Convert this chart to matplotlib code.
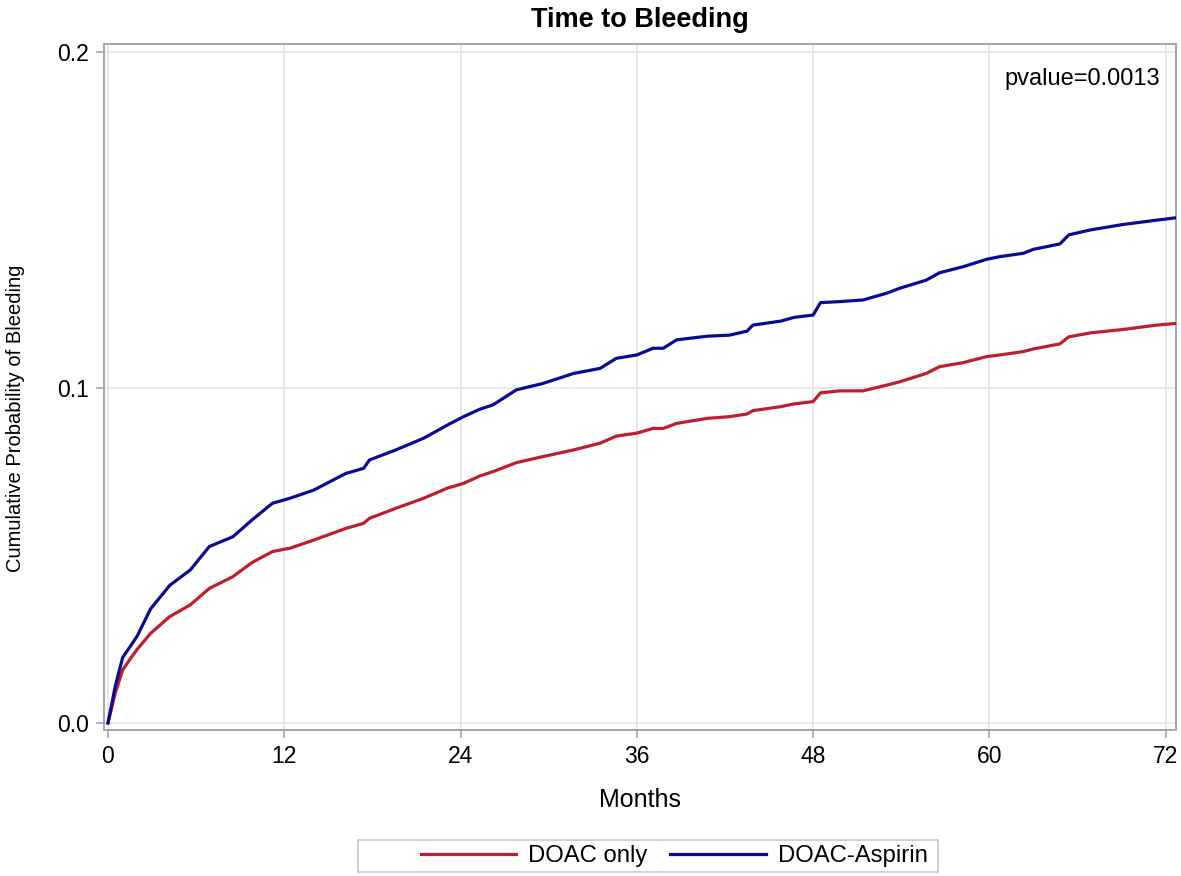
import matplotlib
matplotlib.use("Agg")
import matplotlib.pyplot as plt
from matplotlib.patches import Rectangle

# values (months, cumulative probability)
months = [0, 0.5, 1.0, 1.5, 2.0, 2.9, 4.2, 5.6, 6.9, 8.5, 9.8, 11.2, 12.4, 14.0,
          16.2, 17.4, 17.8, 19.6, 21.5, 23.1, 24.2, 25.3, 26.2, 27.8, 29.6, 31.7,
          33.5, 34.6, 36.0, 37.1, 37.8, 38.7, 40.8, 42.3, 43.5, 43.9, 45.8, 46.7,
          48.0, 48.5, 49.8, 51.4, 53.0, 53.9, 55.7, 56.6, 58.2, 59.8, 60.7, 62.3,
          63.0, 64.8, 65.4, 66.9, 69.1, 71.4, 72.7]

doac_only = [0.000, 0.009, 0.0158, 0.019, 0.022, 0.0267, 0.0317, 0.0352, 0.0401,
             0.0436, 0.0478, 0.0511, 0.0521, 0.0545, 0.058, 0.0595, 0.061, 0.064,
             0.067, 0.070, 0.0714, 0.0736, 0.0749, 0.0776, 0.0794, 0.0814, 0.0834,
             0.0855, 0.0864, 0.0878, 0.0878, 0.0893, 0.0908, 0.0913, 0.0921, 0.0931,
             0.0943, 0.0951, 0.0958, 0.0984, 0.099, 0.099, 0.1007, 0.1017, 0.1042,
             0.1062, 0.1074, 0.1092, 0.1097, 0.1107, 0.1115, 0.113, 0.1151, 0.1163,
             0.1173, 0.1186, 0.1191]

doac_aspirin = [0.000, 0.011, 0.0195, 0.0227, 0.026, 0.034, 0.041, 0.0456, 0.0526,
                0.0555, 0.0605, 0.0655, 0.067, 0.0694, 0.0744, 0.0759, 0.0784, 0.0814,
                0.0849, 0.0888, 0.0913, 0.0935, 0.0948, 0.0993, 0.1012, 0.1042, 0.1057,
                0.1087, 0.1097, 0.1117, 0.1117, 0.1142, 0.1153, 0.1156, 0.1168, 0.1186,
                0.1198, 0.1209, 0.1216, 0.1253, 0.1256, 0.1261, 0.1281, 0.1296, 0.132,
                0.1342, 0.136, 0.1382, 0.139, 0.140, 0.1412, 0.1428, 0.1455, 0.147,
                0.1486, 0.1499, 0.1506]

series_labels = ["DOAC only", "DOAC-Aspirin"]
x_ticks = [0, 12, 24, 36, 48, 60, 72]
y_ticks = [0.0, 0.1, 0.2]
pvalue_text = "pvalue=0.0013"

RED = "#BE1E2D"
BLUE = "#0A0A96"
FRAME = "#A3A7AB"
GRID = "#E4E4E4"

plt.rcParams["font.family"] = ["Liberation Sans", "DejaVu Sans"]

W, H = 1181, 876
fig = plt.figure(figsize=(W / 100, H / 100), dpi=100)
ax = fig.add_axes([104 / W, 1 - 730 / H, (1176 - 104) / W, (730 - 44) / H])

ax.plot(months, doac_only, color=RED, lw=2.3, label=series_labels[0], zorder=3)
ax.plot(months, doac_aspirin, color=BLUE, lw=2.3, label=series_labels[1], zorder=3)

ax.set_xlim(-0.27, 72.7)
ax.set_ylim(-0.0021, 0.2024)
ax.set_xticks(x_ticks)
ax.set_yticks(y_ticks)
ax.set_yticklabels([f"{v:.1f}" for v in y_ticks])
ax.grid(True, color=GRID, lw=1.2, zorder=0)
ax.set_axisbelow(True)
for s in ax.spines.values():
    s.set_color(FRAME)
    s.set_linewidth(1.4)
ax.tick_params(axis="both", colors=FRAME, labelcolor="black", labelsize=16.5,
               length=6, width=1.2)
ax.tick_params(axis="y", pad=5)
ax.tick_params(axis="x", pad=5)

ax.set_xlabel("Months", fontsize=18, labelpad=14)
ax.set_ylabel("Cumulative Probability of Bleeding", fontsize=14.5)
ax.yaxis.set_label_coords(-0.074, 0.455)
ax.set_title("Time to Bleeding", fontsize=19.5, fontweight="bold", pad=12)

ax.text(0.985, 0.965, pvalue_text, transform=ax.transAxes, ha="right", va="top",
        fontsize=17)

# legend box at the bottom, SAS style
fig.patches.append(Rectangle((358 / W, 1 - 872 / H), (938 - 358) / W, 32 / H,
                             transform=fig.transFigure, fill=False,
                             edgecolor="#C8C8C8", lw=1.2))
fig.legend(loc="center left", bbox_to_anchor=(404 / W, 1 - 856 / H), ncol=2,
           frameon=False, fontsize=17.2, handlelength=4.0, handletextpad=0.5,
           columnspacing=0.95, borderpad=0.2)

fig.savefig("out.png", dpi=100)
